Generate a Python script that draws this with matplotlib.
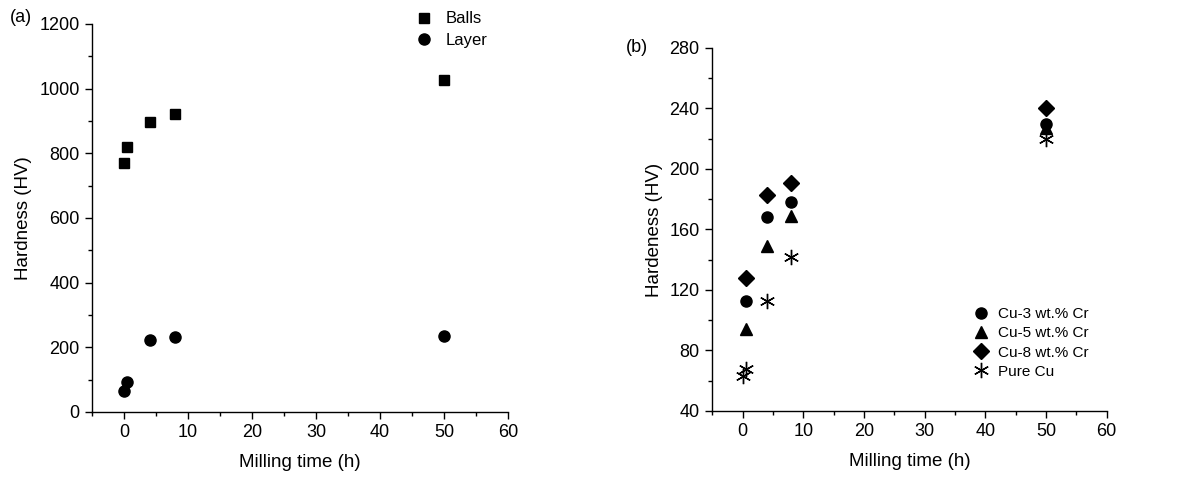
import matplotlib
matplotlib.use("Agg")
import matplotlib.pyplot as plt
from matplotlib.ticker import MultipleLocator

plt.rcParams['font.family'] = ['Liberation Sans', 'DejaVu Sans']

# Panel (a)
time_a = [0, 0.5, 4, 8, 50]
balls = [770, 820, 897, 922, 1026]
layer = [66, 92, 222, 233, 234]

# Panel (b)
time_cr = [0.5, 4, 8, 50]
cu3 = [113, 168, 178, 230]
cu5 = [94, 149, 169, 227]
cu8 = [128, 183, 191, 240]
time_pure = [0, 0.5, 4, 8, 50]
pure_cu = [63, 68, 113, 142, 220]

fig = plt.figure(figsize=(11.95, 4.79), dpi=100)

def style(ax):
    for s in ['top', 'right']:
        ax.spines[s].set_visible(False)
    for s in ['left', 'bottom']:
        ax.spines[s].set_linewidth(1.0)
    ax.tick_params(which='major', direction='out', length=5, width=1, labelsize=13, pad=4)
    ax.tick_params(which='minor', direction='out', length=3, width=1)

ax1 = fig.add_axes([0.077, 0.140, 0.348, 0.810])
ax1.plot(time_a, balls, 's', color='black', ms=7.5, label='Balls', clip_on=False)
ax1.plot(time_a, layer, 'o', color='black', ms=8, label='Layer', clip_on=False)
ax1.set_xlim(-5, 60)
ax1.set_ylim(0, 1200)
ax1.xaxis.set_major_locator(MultipleLocator(10))
ax1.xaxis.set_minor_locator(MultipleLocator(5))
ax1.yaxis.set_major_locator(MultipleLocator(200))
ax1.yaxis.set_minor_locator(MultipleLocator(100))
style(ax1)
ax1.set_xlabel('Milling time (h)', fontsize=13.5, labelpad=9)
ax1.set_ylabel('Hardness (HV)', fontsize=13.5, labelpad=5)
ax1.legend(loc='upper left', bbox_to_anchor=(0.742, 1.071), frameon=False,
           fontsize=12, handletextpad=0.8, labelspacing=0.4, handlelength=1.0)
fig.text(0.008, 0.963, '(a)', fontsize=13, va='center', ha='left')

ax2 = fig.add_axes([0.596, 0.142, 0.330, 0.758])
ax2.plot(time_cr, cu5, '^', color='black', ms=8.5, label='Cu-5 wt.% Cr', clip_on=False, zorder=3)
ax2.plot(time_cr, cu3, 'o', color='black', ms=8, label='Cu-3 wt.% Cr', clip_on=False, zorder=4)
ax2.plot(time_cr, cu8, 'D', color='black', ms=8, label='Cu-8 wt.% Cr', clip_on=False, zorder=4)
ax2.plot(time_pure, pure_cu, marker=(6, 2, 0), linestyle='none', color='black', ms=11,
         mew=1.0, label='Pure Cu', clip_on=False, zorder=5)
ax2.set_xlim(-5, 60)
ax2.set_ylim(40, 280)
ax2.xaxis.set_major_locator(MultipleLocator(10))
ax2.xaxis.set_minor_locator(MultipleLocator(5))
ax2.yaxis.set_major_locator(MultipleLocator(40))
ax2.yaxis.set_minor_locator(MultipleLocator(20))
style(ax2)
ax2.set_xlabel('Milling time (h)', fontsize=13.5, labelpad=9)
ax2.set_ylabel('Hardeness (HV)', fontsize=13.5, labelpad=5)
h, l = ax2.get_legend_handles_labels()
order = [1, 0, 2, 3]
ax2.legend([h[i] for i in order], [l[i] for i in order], loc='upper left',
           bbox_to_anchor=(0.627, 0.323), frameon=False, fontsize=11,
           handletextpad=0.6, labelspacing=0.33, handlelength=1.0)
fig.text(0.524, 0.900, '(b)', fontsize=13, va='center', ha='left')

fig.savefig('out.png', dpi=100)
